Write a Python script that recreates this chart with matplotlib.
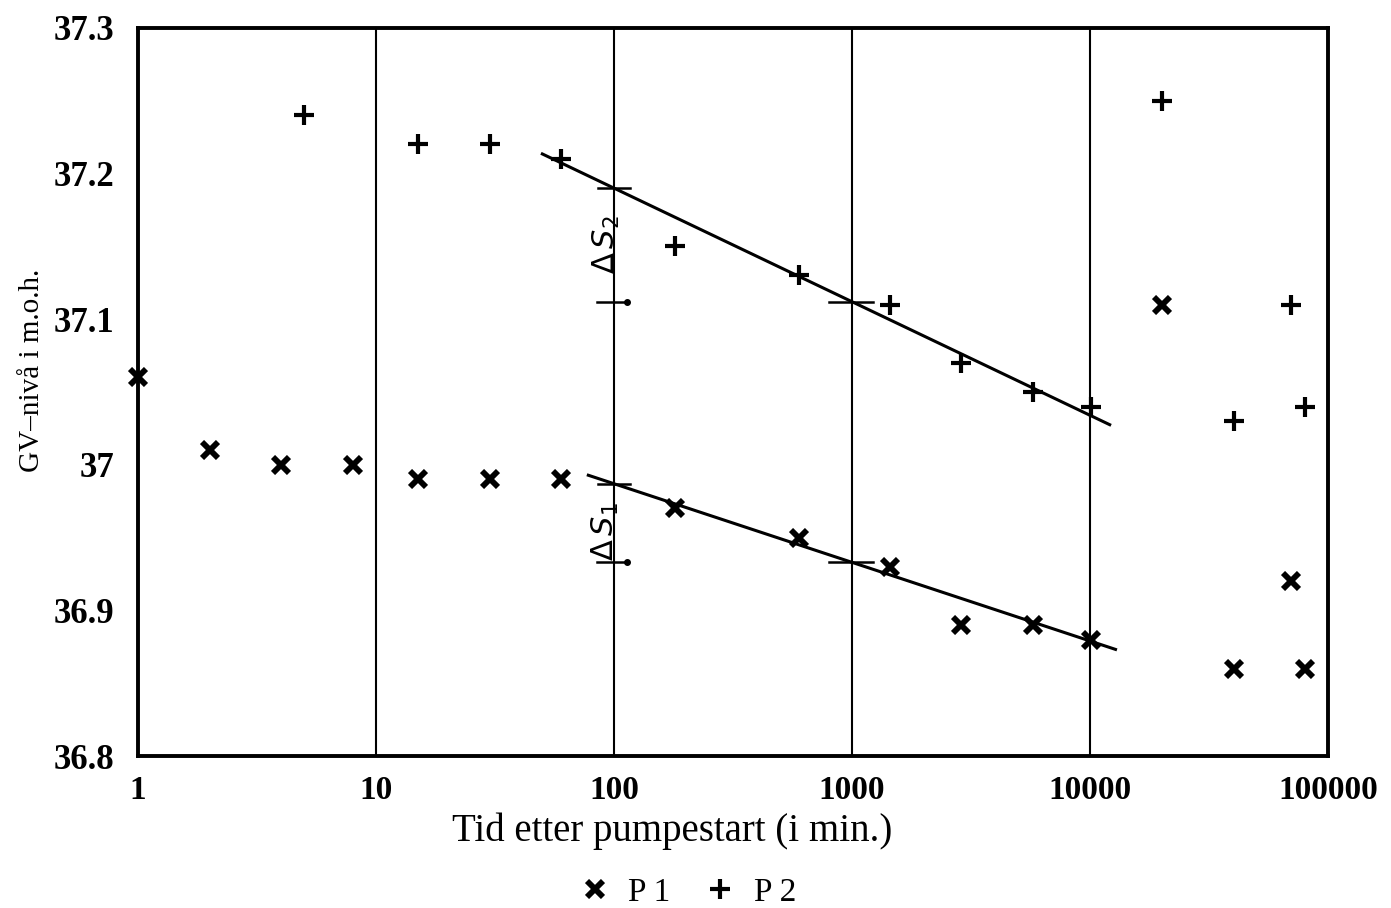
import numpy as np
import matplotlib.pyplot as plt
from matplotlib.lines import Line2D

# tid etter pumpestart (min) og GV-niva (m.o.h.)
p1_t = [1, 2, 4, 8, 15, 30, 60, 180, 600, 1440, 2880, 5760, 10080,
        20160, 40320, 70000, 80000]
p1_h = [37.06, 37.01, 37.00, 37.00, 36.99, 36.99, 36.99, 36.97, 36.95,
        36.93, 36.89, 36.89, 36.88, 37.11, 36.86, 36.92, 36.86]
p2_t = [5, 15, 30, 60, 180, 600, 1440, 2880, 5760, 10080,
        20160, 40320, 70000, 80000]
p2_h = [37.24, 37.22, 37.22, 37.21, 37.15, 37.13, 37.11, 37.07, 37.05,
        37.04, 37.25, 37.03, 37.11, 37.04]

# tilpassede linjer: niva ved t=100, fall per dekade, start, slutt
fit1 = [36.987, 0.054, 78, 12800]
fit2 = [37.190, 0.078, 50, 12100]

xticks = [1, 10, 100, 1000, 10000, 100000]
yticks = [36.8, 36.9, 37.0, 37.1, 37.2, 37.3]
ylabels = ["36.8", "36.9", "37", "37.1", "37.2", "37.3"]

serif = "Liberation Serif"


def fit(f, t):
    return f[0] - f[1] * (np.log10(t) - 2)


def main():
    fig = plt.figure(figsize=(13.91, 9.08), dpi=100)
    ax = fig.add_axes([0.0992, 0.1674, 0.8555, 0.8018])
    ax.set_xscale("log")
    ax.set_xlim(1, 100000)
    ax.set_ylim(36.8, 37.3)

    for g in xticks[1:-1]:
        ax.axvline(g, color="black", lw=1.5, zorder=1)

    for f in (fit1, fit2):
        t = np.array([f[2], f[3]])
        ax.plot(t, fit(f, t), color="black", lw=2.2, zorder=2)

    # delta S markeringer
    for f in (fit1, fit2):
        y100 = fit(f, 100)
        y1000 = fit(f, 1000)
        ax.plot([86, 117], [y100, y100], color="black", lw=1.8)
        ax.plot([85, 113], [y1000, y1000], color="black", lw=1.8)
        ax.plot([113], [y1000], "o", color="black", ms=4)
        ax.plot([800, 1220], [y1000, y1000], color="black", lw=1.8)
    ax.text(93, 37.151, r"$\Delta\,S_2$", rotation=90, fontsize=22,
            ha="center", va="center", family=serif)
    ax.text(92, 36.954, r"$\Delta\,S_1$", rotation=90, fontsize=22,
            ha="center", va="center", family=serif)

    ax.plot(p1_t, p1_h, linestyle="none", marker="x", ms=11, mew=4.2,
            color="black", zorder=3, clip_on=False)
    ax.plot(p2_t, p2_h, linestyle="none", marker="+", ms=15, mew=3.0,
            color="black", zorder=3, clip_on=False)

    ax.set_xticks(xticks)
    ax.set_xticklabels([str(v) for v in xticks])
    ax.set_yticks(yticks)
    ax.set_yticklabels(ylabels)
    ax.minorticks_off()
    ax.tick_params(axis="x", length=0, pad=14)
    ax.tick_params(axis="y", length=0, pad=17)
    for lab in ax.get_xticklabels():
        lab.set_family(serif)
        lab.set_fontsize(24)
        lab.set_fontweight("bold")
    for lab in ax.get_yticklabels():
        lab.set_family(serif)
        lab.set_fontsize(25)
        lab.set_fontweight("bold")
    for s in ax.spines.values():
        s.set_linewidth(2.8)

    ax.set_xlabel("Tid etter pumpestart (i min.)", family=serif,
                  fontsize=28)
    ax.xaxis.set_label_coords(0.449, -0.078)
    ax.set_ylabel("GV\u2013nivå i m.o.h.", family=serif, fontsize=21)
    ax.yaxis.set_label_coords(-0.078, 0.53)

    handles = [
        Line2D([], [], linestyle="none", marker="x", ms=11, mew=4.2,
               color="black"),
        Line2D([], [], linestyle="none", marker="+", ms=15, mew=3.0,
               color="black"),
    ]
    fig.legend(handles, ["P 1", "P 2"], loc="center",
               bbox_to_anchor=(0.488, 0.017), ncol=2, frameon=False,
               prop={"family": serif, "size": 24}, handletextpad=0.0,
               columnspacing=0.5)

    fig.savefig("out.png", dpi=100)


if __name__ == '__main__':
    main()
